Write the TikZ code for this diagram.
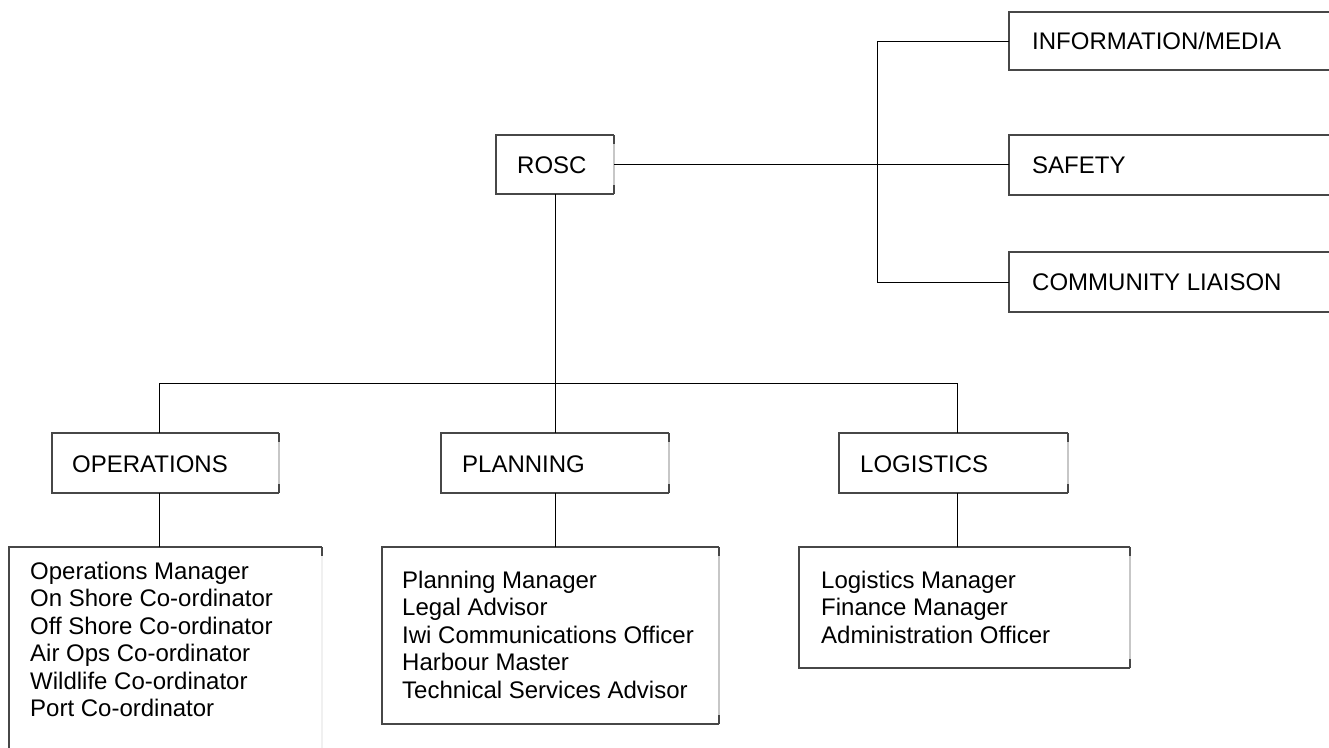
\documentclass[tikz,border=0pt]{standalone}
\usepackage{fontspec}
\setmainfont{Liberation Sans}
\begin{document}
\begin{tikzpicture}[x=1pt,y=-1pt,
  box/.style={draw=none, inner sep=0pt, outer sep=0pt},
  edge/.style={draw=black!72, line width=1.6pt},
  faint/.style={draw=black!22, line width=1.4pt},
  wire/.style={draw=black, line width=1pt},
  label/.style={anchor=base west, inner sep=0pt, font=\fontsize{24}{27.5}\selectfont},
]
% frame of a box: dark on three sides, pale on the right with dark corner ticks
\newcommand\orgframe[2][black!22]{%
  \draw[edge] (#2.north east) -- (#2.north west) -- (#2.south west) -- (#2.south east);
  \draw[faint, draw=#1] (#2.north east) -- (#2.south east);
  \draw[edge] (#2.north east) -- ++(0,9);
  \draw[edge] (#2.south east) -- ++(0,-9);}
\useasboundingbox (0,0) rectangle (1329,747);
\clip (0,0) rectangle (1329,747);
\fill[white] (0,0) rectangle (1329,747);

% boxes
\node[box, minimum width=118pt, minimum height=59pt] (rosc) at (555,164.5) {};
\node[box, minimum width=340pt, minimum height=58pt] (info) at (1179,41) {};
\node[box, minimum width=340pt, minimum height=60pt] (safety) at (1179,165) {};
\node[box, minimum width=340pt, minimum height=60pt] (community) at (1179,282) {};
\node[box, minimum width=227pt, minimum height=60pt] (ops) at (165.5,463) {};
\node[box, minimum width=228pt, minimum height=60pt] (plan) at (555,463) {};
\node[box, minimum width=229pt, minimum height=60pt] (log) at (953.5,463) {};
\node[box, minimum width=313pt, minimum height=223pt] (opslist) at (165.5,658.5) {};
\node[box, minimum width=337pt, minimum height=177pt] (planlist) at (550.5,635.5) {};
\node[box, minimum width=331pt, minimum height=121pt] (loglist) at (964.5,607.5) {};

\orgframe{rosc}
\draw[edge] (info.north east) -- (info.north west) -- (info.south west) -- (info.south east);
\draw[edge] (safety.north east) -- (safety.north west) -- (safety.south west) -- (safety.south east);
\draw[edge] (community.north east) -- (community.north west) -- (community.south west) -- (community.south east);
\orgframe{ops}
\orgframe{plan}
\orgframe{log}
\orgframe[black!6]{opslist}
\orgframe{planlist}
\orgframe{loglist}

% texts
\node[label] (roscT) at (517,173) {ROSC};
\node[label] (infoT) at (1032,49) {INFORMATION/MEDIA};
\node[label] (safetyT) at (1032,173) {SAFETY};
\node[label] (communityT) at (1032,290) {COMMUNITY LIAISON};
\node[label] (opsT) at (72,472) {OPERATIONS};
\node[label] (planT) at (462,472) {PLANNING};
\node[label] (logT) at (860,472) {LOGISTICS};
\node[label] (opslistT) at (30,579) {\begin{tabular}[t]{@{}l@{}}Operations Manager\\On Shore Co-ordinator\\Off Shore Co-ordinator\\Air Ops Co-ordinator\\Wildlife Co-ordinator\\Port Co-ordinator\end{tabular}};
\node[label] (planlistT) at (402,588) {\begin{tabular}[t]{@{}l@{}}Planning Manager\\Legal Advisor\\Iwi Communications Officer\\Harbour Master\\Technical Services Advisor\end{tabular}};
\node[label] (loglistT) at (821,588) {\begin{tabular}[t]{@{}l@{}}Logistics Manager\\Finance Manager\\Administration Officer\end{tabular}};

% connectors
\coordinate (trunk) at (877,0);
\coordinate (busL) at (159,383);
\coordinate (busR) at (957,383);
\draw[wire] (rosc.east) -- (rosc.east -| safety.west);
\draw[wire] (info.west) -- (info.west -| trunk) -- (community.west -| trunk) -- (community.west);
\draw[wire] (rosc.south) -- (plan.north);
\draw[wire] (busL |- ops.north) -- (busL) -- (busR) -- (busR |- log.north);
\draw[wire] (busL |- ops.south) -- (busL |- opslist.north);
\draw[wire] (plan.south) -- (plan.south |- planlist.north);
\draw[wire] (busR |- log.south) -- (busR |- loglist.north);
\end{tikzpicture}
\end{document}
